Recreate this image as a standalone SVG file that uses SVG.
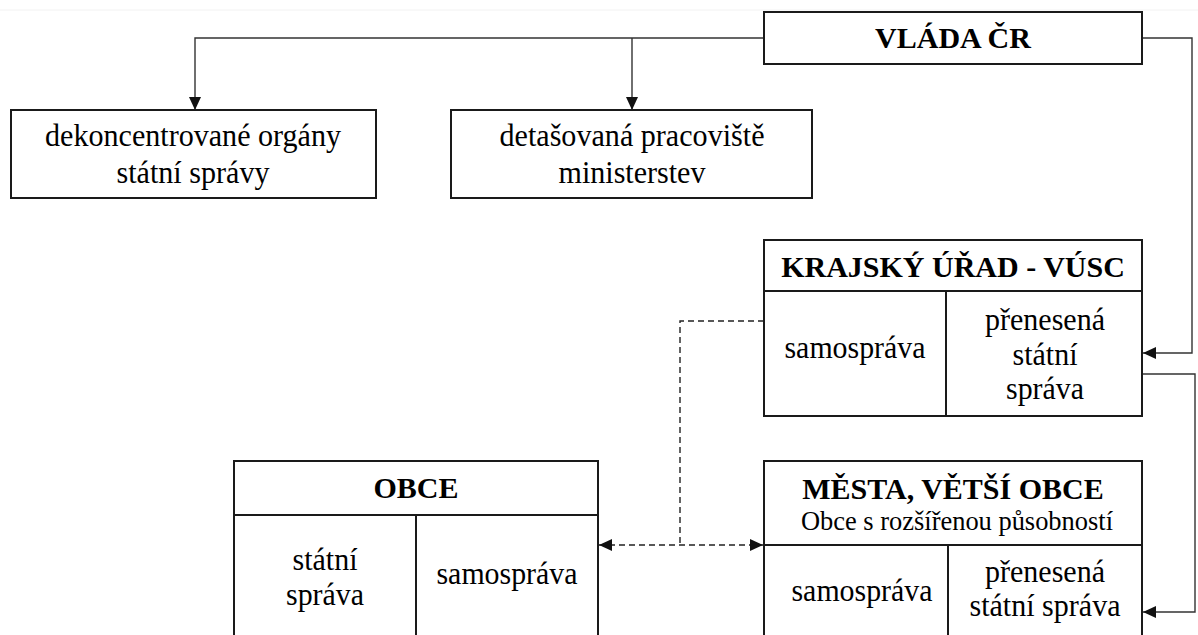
<svg xmlns="http://www.w3.org/2000/svg" width="1198" height="635" viewBox="0 0 1198 635">
<style>
.box{fill:#fff;stroke:#1a1a1a;stroke-width:2}
.div{fill:none;stroke:#1a1a1a;stroke-width:2}
.con{fill:none;stroke:#333;stroke-width:1.4}
.dash{fill:none;stroke:#222;stroke-width:1.4;stroke-dasharray:6 4}
.b{font-family:"Liberation Serif","Times New Roman",serif;font-weight:bold;font-size:30px;text-anchor:middle;fill:#000}
.r{font-family:"Liberation Serif","Times New Roman",serif;font-size:32px;text-anchor:middle;fill:#000}
.s{font-family:"Liberation Serif","Times New Roman",serif;font-size:28px;text-anchor:middle;fill:#000}
</style>
<defs>
<marker id="arr" markerUnits="userSpaceOnUse" markerWidth="14" markerHeight="12" viewBox="0 0 14 12" refX="13" refY="6" orient="auto-start-reverse">
<path d="M0,0 L13,6 L0,12 Z" fill="#111"/>
</marker>
</defs>
<rect x="0" y="0" width="1198" height="635" fill="#fff"/>
<line x1="0" y1="10" x2="1198" y2="10" stroke="#f2f2f2" stroke-width="1"/>

<g id="connectors">
<path class="con" d="M764,38 H195 V110" marker-end="url(#arr)"/>
<path class="con" d="M632,38 V110" marker-end="url(#arr)"/>
<path class="con" d="M1142,38 H1192 V353 H1143" marker-end="url(#arr)"/>
<path class="con" d="M1142,374 H1195 V612 H1143" marker-end="url(#arr)"/>
<path class="dash" d="M764,321 H680 V545"/>
<path class="dash" d="M599,545 H763" marker-start="url(#arr)" marker-end="url(#arr)"/>
</g>

<g id="vlada">
<rect class="box" x="764" y="12" width="378" height="52"/>
<text class="b" x="953" y="48">VLÁDA ČR</text>
</g>

<g id="dekoncentrovane">
<rect class="box" x="11" y="110" width="365" height="88"/>
<text class="r" x="193" y="146" textLength="296" lengthAdjust="spacingAndGlyphs">dekoncentrované orgány</text>
<text class="r" x="193" y="183" textLength="153" lengthAdjust="spacingAndGlyphs">státní správy</text>
</g>

<g id="detasovana">
<rect class="box" x="451" y="110" width="361" height="88"/>
<text class="r" x="632" y="146" textLength="265" lengthAdjust="spacingAndGlyphs">detašovaná pracoviště</text>
<text class="r" x="632" y="183" textLength="147" lengthAdjust="spacingAndGlyphs">ministerstev</text>
</g>

<g id="krajsky">
<rect class="box" x="764" y="240" width="378" height="176"/>
<path class="div" d="M764,291 H1142 M946,291 V416"/>
<text class="b" x="953" y="277">KRAJSKÝ ÚŘAD - VÚSC</text>
<text class="r" x="855" y="358" textLength="141" lengthAdjust="spacingAndGlyphs">samospráva</text>
<text class="r" x="1045" y="330" textLength="120" lengthAdjust="spacingAndGlyphs">přenesená</text>
<text class="r" x="1045" y="365" textLength="65" lengthAdjust="spacingAndGlyphs">státní</text>
<text class="r" x="1045" y="399" textLength="78" lengthAdjust="spacingAndGlyphs">správa</text>
</g>

<g id="obce">
<rect class="box" x="234" y="461" width="364" height="190"/>
<path class="div" d="M234,515 H598 M416,515 V651"/>
<text class="b" x="416" y="498">OBCE</text>
<text class="r" x="325" y="570" textLength="65" lengthAdjust="spacingAndGlyphs">státní</text>
<text class="r" x="325" y="605" textLength="78" lengthAdjust="spacingAndGlyphs">správa</text>
<text class="r" x="507" y="584" textLength="141" lengthAdjust="spacingAndGlyphs">samospráva</text>
</g>

<g id="mesta">
<rect class="box" x="764" y="461" width="378" height="190"/>
<path class="div" d="M764,545 H1142 M948,545 V651"/>
<text class="b" x="953" y="499">MĚSTA, VĚTŠÍ OBCE</text>
<text class="s" x="957" y="530" textLength="312" lengthAdjust="spacingAndGlyphs">Obce s rozšířenou působností</text>
<text class="r" x="862" y="601" textLength="141" lengthAdjust="spacingAndGlyphs">samospráva</text>
<text class="r" x="1045" y="582" textLength="120" lengthAdjust="spacingAndGlyphs">přenesená</text>
<text class="r" x="1045" y="616" textLength="151" lengthAdjust="spacingAndGlyphs">státní správa</text>
</g>
</svg>
